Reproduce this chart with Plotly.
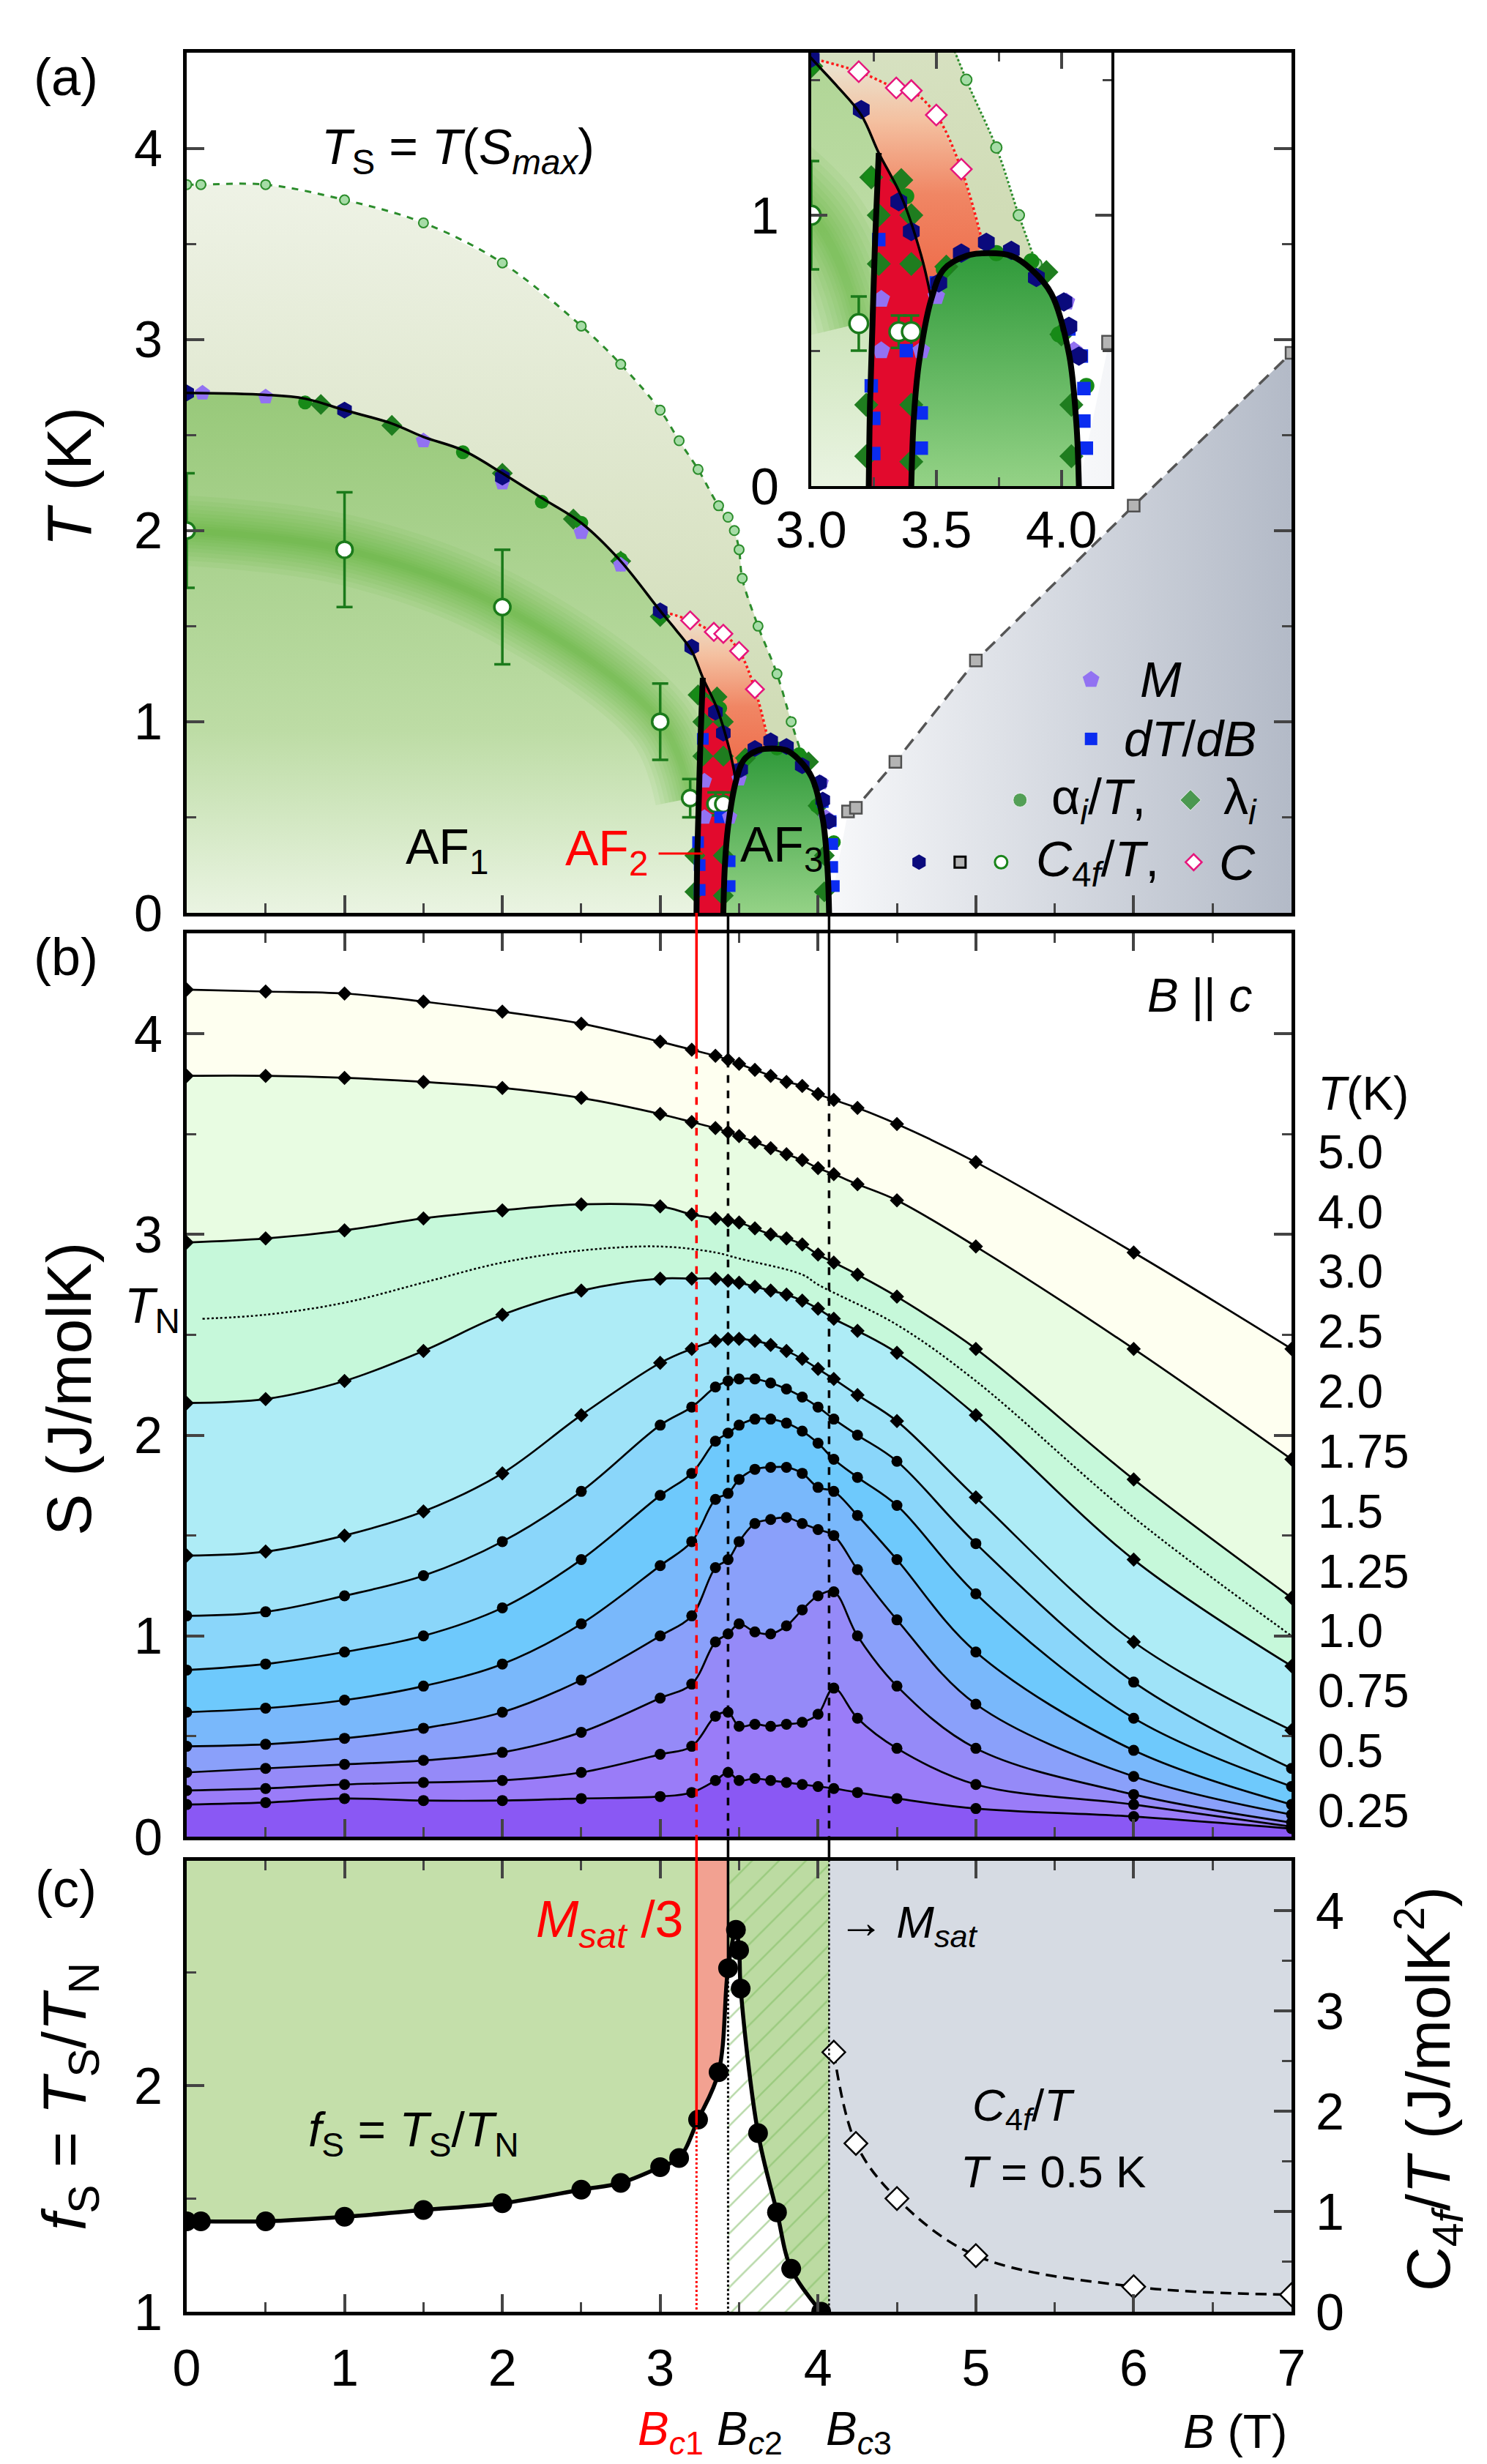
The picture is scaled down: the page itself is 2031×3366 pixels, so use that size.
import numpy as np
import plotly.graph_objects as go

FONT = "Liberation Sans, Arial, sans-serif"

# ------------------------------------------------------------------
# DATA
# ------------------------------------------------------------------
# Panel (a): phase boundaries  B (T), T (K)
B_TN = [0.0, 0.5, 0.75, 1.0, 1.3, 1.5, 1.75, 2.0, 2.25, 2.5, 2.75, 3.0, 3.1, 3.2, 3.27, 3.36, 3.44, 3.48]
T_TN = [2.72, 2.71, 2.69, 2.63, 2.56, 2.49, 2.42, 2.30, 2.17, 2.04, 1.84, 1.58, 1.48, 1.37, 1.23, 1.07, 0.85, 0.69]
B_AF2L = [3.23, 3.235, 3.245, 3.255, 3.27]
T_AF2L = [0.0, 0.3, 0.6, 0.9, 1.23]
B_AF3 = [3.40, 3.41, 3.43, 3.48, 3.53, 3.62, 3.71, 3.80, 3.88, 3.96, 4.03, 4.06, 4.07]
T_AF3 = [0.0, 0.25, 0.45, 0.69, 0.80, 0.85, 0.86, 0.85, 0.80, 0.71, 0.49, 0.23, 0.0]
B_TS = [0.0, 0.09, 0.5, 1.0, 1.5, 2.0, 2.5, 2.75, 3.0, 3.12, 3.24, 3.37, 3.43, 3.47, 3.50, 3.52, 3.62, 3.74, 3.83, 3.90]
T_TS = [3.81, 3.81, 3.81, 3.73, 3.61, 3.40, 3.07, 2.87, 2.63, 2.47, 2.32, 2.13, 2.07, 2.00, 1.90, 1.75, 1.50, 1.25, 1.00, 0.82]
B_C = [3.19, 3.34, 3.40, 3.50, 3.60]
T_C = [1.53, 1.47, 1.46, 1.37, 1.17]
B_C_ENDS = [3.0, 3.69]
T_C_ENDS = [1.58, 0.88]
B_ERR = [0.0, 1.0, 2.0, 3.0, 3.19, 3.35, 3.40]
T_ERR = [2.0, 1.9, 1.6, 1.0, 0.60, 0.57, 0.57]
DT_ERR = [0.3, 0.3, 0.3, 0.2, 0.1, 0.06, 0.06]
B_SAT = [4.19, 4.24, 4.49, 5.0, 6.0, 7.0]
T_SAT = [0.53, 0.55, 0.79, 1.32, 2.13, 2.93]
B_HEX = [0.0, 1.0, 2.0, 3.0, 3.20, 3.35, 3.40, 3.51, 3.60, 3.70, 3.80, 3.90, 4.01, 4.03, 4.07]
T_HEX = [2.72, 2.63, 2.28, 1.58, 1.39, 1.05, 0.94, 0.75, 0.86, 0.90, 0.87, 0.77, 0.68, 0.59, 0.48]
B_M = [0.1, 0.5, 1.5, 2.0, 2.5, 2.75, 3.28, 3.28, 3.44, 3.50, 4.02, 4.05]
T_M = [2.72, 2.70, 2.47, 2.25, 1.99, 1.82, 0.69, 0.50, 0.50, 0.70, 0.68, 0.50]
B_DTDB = [3.27, 3.24, 3.25, 3.25, 3.38, 3.44, 3.44, 3.50, 4.03, 4.08, 4.09, 4.09, 4.10]
T_DTDB = [0.91, 0.37, 0.25, 0.12, 0.50, 0.27, 0.14, 0.75, 0.58, 0.48, 0.36, 0.24, 0.14]
B_ALPHA = [0.75, 1.75, 2.25, 2.5, 2.75, 3.0, 3.24, 3.38, 3.53, 3.74, 3.88, 3.99, 4.10]
T_ALPHA = [2.67, 2.41, 2.15, 2.04, 1.85, 1.55, 1.14, 1.07, 0.80, 0.86, 0.83, 0.56, 0.37]
B_LAMBDA = [0.85, 1.3, 2.0, 2.45, 2.75, 3.0, 3.24, 3.27, 3.36, 3.40, 3.27, 3.40, 3.22, 3.22, 3.40, 3.40, 3.54, 3.94, 4.0, 4.04, 4.04]
T_LAMBDA = [2.66, 2.55, 2.30, 2.06, 1.84, 1.55, 1.14, 1.0, 1.13, 1.0, 0.82, 0.82, 0.30, 0.11, 0.30, 0.09, 0.81, 0.79, 0.56, 0.30, 0.11]

# Panel (b): entropy S (J/molK) vs B for several temperatures
B_S = [0, 0.5, 1, 1.5, 2, 2.5, 3, 3.2, 3.35, 3.43, 3.5, 3.6, 3.7, 3.8, 3.9, 4.0, 4.1, 4.25, 4.5, 5, 6, 7]
S_025 = [0.16, 0.17, 0.19, 0.18, 0.18, 0.19, 0.20, 0.22, 0.28, 0.32, 0.28, 0.29, 0.28, 0.27, 0.26, 0.25, 0.24, 0.22, 0.19, 0.14, 0.10, 0.04]
S_050 = [0.23, 0.24, 0.26, 0.27, 0.28, 0.32, 0.41, 0.45, 0.60, 0.62, 0.55, 0.56, 0.55, 0.56, 0.57, 0.61, 0.74, 0.59, 0.44, 0.26, 0.16, 0.05]
S_075 = [0.32, 0.34, 0.36, 0.38, 0.42, 0.52, 0.69, 0.76, 0.97, 1.01, 1.06, 1.02, 1.01, 1.05, 1.13, 1.20, 1.22, 1.00, 0.75, 0.44, 0.21, 0.07]
S_100 = [0.45, 0.46, 0.49, 0.54, 0.62, 0.78, 1.00, 1.10, 1.34, 1.38, 1.47, 1.56, 1.58, 1.59, 1.56, 1.53, 1.50, 1.33, 1.08, 0.66, 0.30, 0.11]
S_125 = [0.62, 0.64, 0.68, 0.75, 0.86, 1.06, 1.35, 1.47, 1.68, 1.71, 1.78, 1.83, 1.84, 1.84, 1.81, 1.74, 1.72, 1.60, 1.38, 0.92, 0.43, 0.16]
S_150 = [0.83, 0.86, 0.92, 1.00, 1.14, 1.38, 1.70, 1.81, 1.97, 2.01, 2.05, 2.08, 2.08, 2.06, 2.02, 1.96, 1.88, 1.79, 1.65, 1.21, 0.59, 0.25]
S_175 = [1.10, 1.12, 1.20, 1.30, 1.47, 1.72, 2.05, 2.14, 2.24, 2.27, 2.28, 2.28, 2.26, 2.23, 2.19, 2.14, 2.08, 2.00, 1.87, 1.46, 0.77, 0.34]
S_200 = [1.40, 1.42, 1.50, 1.62, 1.81, 2.10, 2.36, 2.43, 2.47, 2.48, 2.48, 2.47, 2.45, 2.42, 2.38, 2.33, 2.28, 2.20, 2.07, 1.69, 0.97, 0.53]
S_250 = [2.16, 2.18, 2.27, 2.42, 2.60, 2.72, 2.78, 2.78, 2.78, 2.77, 2.76, 2.74, 2.72, 2.70, 2.67, 2.63, 2.58, 2.52, 2.41, 2.10, 1.38, 0.85]
S_300 = [2.96, 2.98, 3.02, 3.08, 3.12, 3.15, 3.14, 3.10, 3.08, 3.07, 3.06, 3.03, 3.00, 2.98, 2.95, 2.90, 2.86, 2.80, 2.69, 2.43, 1.78, 1.19]
S_400 = [3.79, 3.79, 3.78, 3.76, 3.73, 3.68, 3.60, 3.56, 3.53, 3.51, 3.49, 3.46, 3.43, 3.40, 3.37, 3.33, 3.30, 3.25, 3.17, 2.94, 2.43, 1.88]
S_500 = [4.22, 4.21, 4.20, 4.16, 4.11, 4.05, 3.96, 3.92, 3.89, 3.87, 3.85, 3.82, 3.79, 3.76, 3.74, 3.70, 3.67, 3.63, 3.55, 3.36, 2.91, 2.43]
T_CURVES = [0.25, 0.5, 0.75, 1.0, 1.25, 1.5, 1.75, 2.0, 2.5, 3.0, 4.0, 5.0]
T_LABELS = ["5.0", "4.0", "3.0", "2.5", "2.0", "1.75", "1.5", "1.25", "1.0", "0.75", "0.5", "0.25"]
B_SN = [0.1, 0.5, 1.0, 1.5, 2.0, 2.5, 3.0, 3.35, 3.5, 3.9, 4.0, 4.5, 5.0, 6.0, 7.0]
S_N = [2.58, 2.60, 2.66, 2.76, 2.86, 2.92, 2.94, 2.91, 2.88, 2.80, 2.75, 2.55, 2.27, 1.59, 1.00]

# Panel (c): f_S = T_S/T_N and C4f/T at 0.5 K
B_F = [0, 0.09, 0.5, 1.0, 1.5, 2.0, 2.5, 2.75, 3.0, 3.12, 3.24, 3.37, 3.43, 3.48, 3.50, 3.51, 3.62, 3.74, 3.83, 4.02]
F_S = [1.40, 1.40, 1.40, 1.42, 1.45, 1.48, 1.54, 1.57, 1.64, 1.68, 1.85, 2.06, 2.52, 2.69, 2.60, 2.43, 1.79, 1.44, 1.19, 1.00]
B_C4 = [4.10, 4.24, 4.50, 5.0, 6.0, 7.0]
C4_T = [2.59, 1.68, 1.13, 0.56, 0.25, 0.17]

# Critical fields
BC1, BC2, BC3 = 3.23, 3.43, 4.07

# ------------------------------------------------------------------
# LAYOUT GEOMETRY
# ------------------------------------------------------------------
W, H = 2031, 3366
ML, MR, MT, MB = 247, 275, 64, 216
PW, PH = W - ML - MR, H - MT - MB


def px(xp):
    return (xp - ML) / PW


def py(yp):
    return 1 - (yp - MT) / PH


YA = [py(1239), 1.0]
YB = [py(2501), py(1267)]
YC = [0.0, py(2534)]
INSET_X = [px(1100), px(1510)]
INSET_Y = [py(656), 1.0]
FTOP = 3.0

fig = go.Figure()


def add(tr, xa, ya):
    tr.update(xaxis=xa, yaxis=ya, showlegend=False, hoverinfo="skip")
    fig.add_trace(tr)


# ------------------------------------------------------------------
# PANEL (a) + INSET
# ------------------------------------------------------------------
def phase(xa, ya, k=1.0, ts_dash="dash", msz=1.0):
    n = B_TN.index(3.27)
    i3 = B_TN.index(3.0)
    # region under T_S (olive)
    add(go.Scatter(x=[0.0] + B_TS + [B_AF3[-1]], y=[0.0] + T_TS + [0.0], fill="toself", mode="lines",
                   line=dict(width=0),
                   fillgradient=dict(type="vertical", colorscale=[[0, "#d0dcb6"], [1, "#eff3e7"]],
                                     start=1.0, stop=3.9)), xa, ya)
    # saturated region (grey)
    add(go.Scatter(x=[B_AF3[-1]] + B_SAT + [B_SAT[-1]], y=[0.0] + T_SAT + [0.0], fill="toself",
                   mode="lines", line=dict(width=0),
                   fillgradient=dict(type="horizontal", colorscale=[[0, "#f7f8fa"], [1, "#b3bac7"]],
                                     start=B_AF3[-1], stop=7.0)), xa, ya)
    # AF1
    add(go.Scatter(x=[0.0] + B_TN[:n + 1] + B_AF2L[::-1][1:], y=[0.0] + T_TN[:n + 1] + T_AF2L[::-1][1:],
                   fill="toself", mode="lines", line=dict(width=0),
                   fillgradient=dict(type="vertical",
                                     colorscale=[[0, "#eaf4e2"], [0.35, "#bddca5"], [1, "#98c97a"]],
                                     start=0.0, stop=2.72)), xa, ya)
    # soft dark-green band inside AF1
    for w in [96, 82, 70, 58, 48, 38, 29, 21, 14, 8]:
        add(go.Scatter(x=B_ERR[:5], y=T_ERR[:5], mode="lines",
                       line=dict(color="rgba(85,168,38,0.075)", width=w * k, shape="spline")), xa, ya)
    # orange glow between T_N line and C maxima
    add(go.Scatter(x=B_TN[i3:] + B_AF3[4:6] + [B_C_ENDS[1]] + B_C[::-1],
                   y=T_TN[i3:] + T_AF3[4:6] + [T_C_ENDS[1]] + T_C[::-1],
                   fill="toself", mode="lines", line=dict(width=0),
                   fillgradient=dict(type="vertical",
                                     colorscale=[[0, "#ee6846"], [0.42, "#f08664"], [0.72, "#f4c0a0"],
                                                 [1, "#e8ead8"]], start=0.7, stop=1.6)), xa, ya)
    # AF2 (red)
    add(go.Scatter(x=B_AF2L + B_TN[n + 1:] + B_AF3[:3][::-1], y=T_AF2L + T_TN[n + 1:] + T_AF3[:3][::-1],
                   fill="toself", mode="lines", line=dict(width=0), fillcolor="#e20a2d"), xa, ya)
    # AF3 dome
    add(go.Scatter(x=B_AF3, y=T_AF3, fill="toself", mode="lines", line=dict(width=0),
                   fillgradient=dict(type="vertical", colorscale=[[0, "#94d286"], [1, "#2f9a3a"]],
                                     start=0.0, stop=0.86)), xa, ya)
    # lines
    add(go.Scatter(x=B_TS, y=T_TS, mode="lines+markers",
                   line=dict(color="#2b8c2b", width=3, dash=ts_dash, shape="spline"),
                   marker=dict(symbol="circle", size=13 * msz, color="#a6dca6",
                               line=dict(color="#2b8c2b", width=2))), xa, ya)
    add(go.Scatter(x=[B_C_ENDS[0]] + B_C + [B_C_ENDS[1]], y=[T_C_ENDS[0]] + T_C + [T_C_ENDS[1]],
                   mode="lines", line=dict(color="#ff1a1a", width=3.5, dash="dot", shape="spline")), xa, ya)
    add(go.Scatter(x=B_SAT, y=T_SAT, mode="lines", line=dict(color="#555555", width=3.5, dash="18px,11px")),
        xa, ya)
    # error bar points
    add(go.Scatter(x=B_ERR, y=T_ERR, mode="markers",
                   error_y=dict(type="data", array=DT_ERR, color="#1a7a1a", thickness=3.5, width=11),
                   marker=dict(symbol="circle", size=22 * msz, color="white",
                               line=dict(color="#1a7a1a", width=3.5))), xa, ya)
    # data markers
    add(go.Scatter(x=B_LAMBDA, y=T_LAMBDA, mode="markers",
                   marker=dict(symbol="diamond", size=22 * msz, color="#1f7d1f")), xa, ya)
    add(go.Scatter(x=B_ALPHA, y=T_ALPHA, mode="markers",
                   marker=dict(symbol="circle", size=19 * msz, color="#178a17")), xa, ya)
    add(go.Scatter(x=B_DTDB, y=T_DTDB, mode="markers",
                   marker=dict(symbol="square", size=16 * msz, color="#0b2cf0")), xa, ya)
    add(go.Scatter(x=B_M, y=T_M, mode="markers",
                   marker=dict(symbol="pentagon", size=22 * msz, color="#9272f2")), xa, ya)
    add(go.Scatter(x=B_HEX, y=T_HEX, mode="markers",
                   marker=dict(symbol="hexagon", size=23 * msz, color="#0a0a7c")), xa, ya)
    add(go.Scatter(x=B_C, y=T_C, mode="markers",
                   marker=dict(symbol="diamond", size=19 * msz, color="white",
                               line=dict(color="#e6157c", width=2.5))), xa, ya)
    add(go.Scatter(x=B_SAT, y=T_SAT, mode="markers",
                   marker=dict(symbol="square", size=16 * msz, color="#b4b4b4",
                               line=dict(color="#505050", width=2.5))), xa, ya)
    # phase boundary lines
    add(go.Scatter(x=B_TN, y=T_TN, mode="lines", line=dict(color="black", width=3.5, shape="spline")), xa, ya)
    add(go.Scatter(x=B_AF2L, y=T_AF2L, mode="lines", line=dict(color="black", width=8, shape="spline")),
        xa, ya)
    add(go.Scatter(x=B_AF3, y=T_AF3, mode="lines", line=dict(color="black", width=8, shape="spline")),
        xa, ya)


phase("x", "y", k=1.0, ts_dash="dash")

# custom legend inside panel (a)  (layout positions in B,T units)
LEG = dict(sym_x1=5.73, row1=1.22, row2=0.91, row3=0.59, row4=0.265)
add(go.Scatter(x=[LEG["sym_x1"]], y=[LEG["row1"]], mode="markers",
               marker=dict(symbol="pentagon", size=24, color="#9272f2")), "x", "y")
add(go.Scatter(x=[LEG["sym_x1"]], y=[LEG["row2"]], mode="markers",
               marker=dict(symbol="square", size=17, color="#0b2cf0")), "x", "y")
add(go.Scatter(x=[5.28, 6.36], y=[LEG["row3"]] * 2, mode="markers",
               marker=dict(symbol=["circle", "diamond"], size=[19, 22], color="#1a851a")), "x", "y")
add(go.Scatter(x=[4.64], y=[LEG["row4"]], mode="markers",
               marker=dict(symbol="hexagon", size=21, color="#0a0a7c")), "x", "y")
add(go.Scatter(x=[4.90], y=[LEG["row4"]], mode="markers",
               marker=dict(symbol="square", size=15, color="#b4b4b4", line=dict(color="black", width=3))),
    "x", "y")
add(go.Scatter(x=[5.16], y=[LEG["row4"]], mode="markers",
               marker=dict(symbol="circle", size=17, color="white", line=dict(color="#1a851a", width=3))),
    "x", "y")
add(go.Scatter(x=[6.38], y=[LEG["row4"]], mode="markers",
               marker=dict(symbol="diamond", size=17, color="white", line=dict(color="#e6157c", width=2.5))),
    "x", "y")

# inset
phase("x4", "y4", k=1.4, ts_dash="dot", msz=1.15)

# ------------------------------------------------------------------
# PANEL (b)
# ------------------------------------------------------------------
S_ALL = [S_025, S_050, S_075, S_100, S_125, S_150, S_175, S_200, S_250, S_300, S_400, S_500]
FILLS_B = ["#8a58f4", "#9a7cf8", "#958af8", "#8aa0fa", "#79b8fb", "#6ec9fc", "#8ad6fa", "#9fe3f8",
           "#aeecf6", "#c6f8da", "#e8fce2", "#fefff0"]
for i, S in enumerate(S_ALL):
    add(go.Scatter(x=B_S, y=S, mode="lines", line=dict(width=0, shape="spline"),
                   fill="tozeroy" if i == 0 else "tonexty", fillcolor=FILLS_B[i]), "x2", "y2")
add(go.Scatter(x=B_SN, y=S_N, mode="lines", line=dict(color="black", width=2.5, dash="dot", shape="spline")),
    "x2", "y2")
for T, S in zip(T_CURVES, S_ALL):
    add(go.Scatter(x=B_S, y=S, mode="lines+markers", line=dict(color="black", width=2.7, shape="spline"),
                   marker=dict(symbol="diamond" if T >= 2.0 else "circle", size=15, color="black")),
        "x2", "y2")

# ------------------------------------------------------------------
# PANEL (c)
# ------------------------------------------------------------------
Bf = np.array(B_F)
Ff = np.array(F_S)


def seg(b0, b1):
    m = (Bf > b0) & (Bf < b1)
    xs = [b0] + list(Bf[m]) + [b1]
    ys = [float(np.interp(b0, Bf, Ff))] + list(Ff[m]) + [float(np.interp(b1, Bf, Ff))]
    return xs, ys


xs, ys = seg(0.0, BC1)
add(go.Scatter(x=xs + [BC1, 0.0], y=ys + [FTOP, FTOP], fill="toself", mode="lines", line=dict(width=0),
               fillcolor="#c4dfaa"), "x3", "y3")
xs, ys = seg(BC1, BC2)
add(go.Scatter(x=xs + [BC2, BC1], y=ys + [FTOP, FTOP], fill="toself", mode="lines", line=dict(width=0),
               fillcolor="#f2a191"), "x3", "y3")
add(go.Scatter(x=[BC2, BC3, BC3, BC2], y=[1.0, 1.0, FTOP, FTOP], fill="toself", mode="lines",
               line=dict(width=0),
               fillpattern=dict(shape="/", fgcolor="#72b455", bgcolor="white", size=26, solidity=0.1)),
    "x3", "y3")
xs, ys = seg(BC2, BC3)
add(go.Scatter(x=xs + [BC3, BC2], y=ys + [FTOP, FTOP], fill="toself", mode="lines", line=dict(width=0),
               fillpattern=dict(shape="/", fgcolor="#7cbb5e", bgcolor="#bcdba2", size=26, solidity=0.1)),
    "x3", "y3")
add(go.Scatter(x=[BC3, 7.0, 7.0, BC3], y=[1.0, 1.0, FTOP, FTOP], fill="toself", mode="lines",
               line=dict(width=0), fillcolor="#d6dbe3"), "x3", "y3")
add(go.Scatter(x=B_F, y=F_S, mode="lines+markers", line=dict(color="black", width=5.5, shape="spline"),
               marker=dict(symbol="circle", size=27, color="black")), "x3", "y3")
add(go.Scatter(x=B_C4, y=C4_T, mode="lines+markers",
               line=dict(color="black", width=3.5, dash="15px,9px", shape="spline"),
               marker=dict(symbol="diamond", size=24, color="white", line=dict(color="black", width=2.5))),
    "x3", "y6")

# ------------------------------------------------------------------
# VERTICAL CRITICAL-FIELD LINES
# ------------------------------------------------------------------
shapes = []


def vline(b, xref, yref, y0, y1, color, dash="solid", width=3.5):
    shapes.append(dict(type="line", xref=xref, yref=yref, x0=b, x1=b, y0=y0, y1=y1, layer="above",
                       line=dict(color=color, width=width, dash=dash)))


for bc, col in [(BC1, "#ff0000"), (BC2, "black"), (BC3, "black")]:
    s5 = float(np.interp(bc, B_S, S_500))
    vline(bc, "x3", "paper", YA[0], YB[1], col)
    vline(bc, "x2", "y2", 4.5, s5, col)
    vline(bc, "x2", "y2", s5, 0.0, col, dash="dash")
    vline(bc, "x3", "paper", YB[0], YC[1], col)
    if bc < BC3:
        fc = float(np.interp(bc, Bf, Ff))
        vline(bc, "x3", "y3", FTOP, fc, col)
        vline(bc, "x3", "y3", fc, 1.0, col, dash="dot", width=3)
    else:
        vline(bc, "x3", "y3", FTOP, 1.0, col, dash="dot", width=2.5)

# AF2 pointer line
shapes.append(dict(type="line", xref="x", yref="y", x0=2.99, x1=3.27, y0=0.31, y1=0.31, layer="above",
                   line=dict(color="#ff0000", width=3)))

# ------------------------------------------------------------------
# ANNOTATIONS
# ------------------------------------------------------------------
ann = []


def A(text, x, y, xref="paper", yref="paper", size=60, color="black", xanchor="center", yanchor="middle",
      angle=0):
    ann.append(dict(text=text, x=x, y=y, xref=xref, yref=yref, showarrow=False, textangle=angle,
                    xanchor=xanchor, yanchor=yanchor, font=dict(family=FONT, size=size, color=color)))


A("(a)", px(82), py(97), size=72)
A("(b)", px(82), py(1299), size=72)
A("(c)", px(82), py(2572), size=72)
A("<i>T</i> (K)", px(86), py(644), size=86, angle=-90)
A("S (J/molK)", px(86), py(1890), size=86, angle=-90)
A("<i>f</i><sub>S</sub> = <i>T</i><sub>S</sub>/<i>T</i><sub>N</sub>", px(86), py(2856), size=84, angle=-90)
A("C<sub>4<i>f</i></sub>/<i>T</i> (J/molK<sup>2</sup>)", px(1943), py(2845), size=84, angle=-90)

# panel (a)
A("<i>T</i><sub>S</sub> = <i>T</i>(<i>S</i><sub><i>max</i></sub>)", 1.72, 3.99, "x", "y", size=68)
A("AF<sub>1</sub>", 1.65, 0.33, "x", "y", size=68)
A("AF<sub>2</sub>", 2.66, 0.32, "x", "y", size=68, color="#ff0000")
A("AF<sub>3</sub>", 3.77, 0.34, "x", "y", size=68)
A("<i>M</i>", 6.03, LEG["row1"], "x", "y", size=68, xanchor="left")
A("<i>dT</i>/<i>dB</i>", 5.93, LEG["row2"], "x", "y", size=68, xanchor="left")
A("\u03b1<sub><i>i</i></sub>/<i>T</i>,", 5.47, LEG["row3"], "x", "y", size=68, xanchor="left")
A("\u03bb<sub><i>i</i></sub>", 6.56, LEG["row3"], "x", "y", size=68, xanchor="left")
A("<i>C</i><sub>4<i>f</i></sub>/<i>T</i>,", 5.37, LEG["row4"], "x", "y", size=68, xanchor="left")
A("<i>C</i>", 6.53, LEG["row4"], "x", "y", size=68, xanchor="left")

# panel (b)
A("<i>B</i> || <i>c</i>", 6.42, 4.19, "x2", "y2", size=64)
A("<i>T</i><sub>N</sub>", px(200), 2.63, "paper", "y2", size=68)
A("<i>T</i>(K)", px(1790), 3.70, "paper", "y2", size=64, xanchor="left")
for i, lab in enumerate(T_LABELS):
    A(lab, px(1790), 3.41 - i * 0.2983, "paper", "y2", size=64, xanchor="left")

# panel (c)
A("<i>M</i><sub><i>sat</i></sub> /3", 2.68, 2.72, "x3", "y3", size=70, color="#ff0000")
A("\u2192 <i>M</i><sub><i>sat</i></sub>", 4.12, 2.71, "x3", "y3", size=62, xanchor="left")
A("<i>f</i><sub>S</sub> = <i>T</i><sub>S</sub>/<i>T</i><sub>N</sub>", 1.44, 1.79, "x3", "y3", size=66)
A("<i>C</i><sub>4<i>f</i></sub>/<i>T</i>", 5.30, 1.90, "x3", "y3", size=62)
A("<i>T</i> = 0.5 K", 5.49, 1.62, "x3", "y3", size=62)

# bottom labels
A("<i>B</i><sub><i>c</i>1</sub>", 2.85, py(3314), "x3", "paper", size=64, color="#ff0000", xanchor="left")
A("<i>B</i><sub><i>c</i>2</sub>", 3.35, py(3314), "x3", "paper", size=64, xanchor="left")
A("<i>B</i><sub><i>c</i>3</sub>", 4.04, py(3314), "x3", "paper", size=64, xanchor="left")
A("<i>B</i> (T)", 6.98, py(3314), "x3", "paper", size=64, xanchor="right")

# ------------------------------------------------------------------
# AXES
# ------------------------------------------------------------------
TF = dict(family=FONT, size=70, color="black")


def xax(domain_anchor, mirror, labels, **kw):
    d = dict(range=[0, 7], dtick=1, tick0=0, ticks="inside", ticklen=24, tickwidth=4, showline=True,
             linewidth=5, linecolor="black", mirror=mirror, showgrid=False, zeroline=False,
             showticklabels=labels, tickfont=TF, ticklabelstandoff=12, anchor=domain_anchor,
             minor=dict(dtick=0.5, tick0=0, ticks="inside", ticklen=13, tickwidth=3, showgrid=False))
    d.update(kw)
    return d


def yax(domain, rng, anchor, mirror="ticks", **kw):
    d = dict(domain=domain, range=rng, dtick=1, tick0=0, ticks="inside", ticklen=24, tickwidth=4,
             showline=True, linewidth=5, linecolor="black", mirror=mirror, showgrid=False, zeroline=False,
             tickfont=TF, ticklabelstandoff=14, anchor=anchor,
             minor=dict(dtick=0.5, tick0=0, ticks="inside", ticklen=13, tickwidth=3, showgrid=False))
    d.update(kw)
    return d


fig.update_layout(
    width=W, height=H, autosize=False,
    margin=dict(l=ML, r=MR, t=MT, b=MB, pad=0),
    paper_bgcolor="white", plot_bgcolor="white",
    showlegend=False,
    font=dict(family=FONT, color="black"),
    xaxis=xax("y", True, False, domain=[0, 1]),
    yaxis=yax(YA, [0, 4.5], "x"),
    xaxis2=xax("y2", "ticks", False, domain=[0, 1]),
    yaxis2=yax(YB, [0, 4.5], "x2"),
    xaxis3=xax("y3", "ticks", True, domain=[0, 1]),
    yaxis3=yax(YC, [1, 2.995], "x3", mirror=False, tick0=1),
    yaxis6=dict(overlaying="y3", side="right", anchor="x3", range=[0, 4.5], dtick=1, tick0=0,
                ticks="inside", ticklen=24, tickwidth=4, showline=True, linewidth=5, linecolor="black",
                showgrid=False, zeroline=False, tickfont=TF, ticklabelstandoff=14,
                minor=dict(dtick=0.5, tick0=0, ticks="inside", ticklen=13, tickwidth=3, showgrid=False)),
    xaxis4=dict(domain=INSET_X, anchor="y4", range=[3.0, 4.2], dtick=0.5, tick0=3.0, tickformat=".1f",
                ticks="inside", ticklen=22, tickwidth=4, showline=True, linewidth=4, linecolor="black",
                mirror="ticks", showgrid=False, zeroline=False, tickfont=TF, ticklabelstandoff=-4,
                minor=dict(dtick=0.25, tick0=3.0, ticks="inside", ticklen=12, tickwidth=3, showgrid=False)),
    yaxis4=dict(domain=INSET_Y, anchor="x4", range=[0, 1.6], dtick=1, tick0=0,
                ticks="inside", ticklen=22, tickwidth=4, showline=True, linewidth=4, linecolor="black",
                mirror="ticks", showgrid=False, zeroline=False, tickfont=TF, ticklabelstandoff=26,
                minor=dict(dtick=0.5, tick0=0, ticks="inside", ticklen=12, tickwidth=3, showgrid=False)),
    shapes=shapes,
    annotations=ann,
)

fig.write_html("out.html")
